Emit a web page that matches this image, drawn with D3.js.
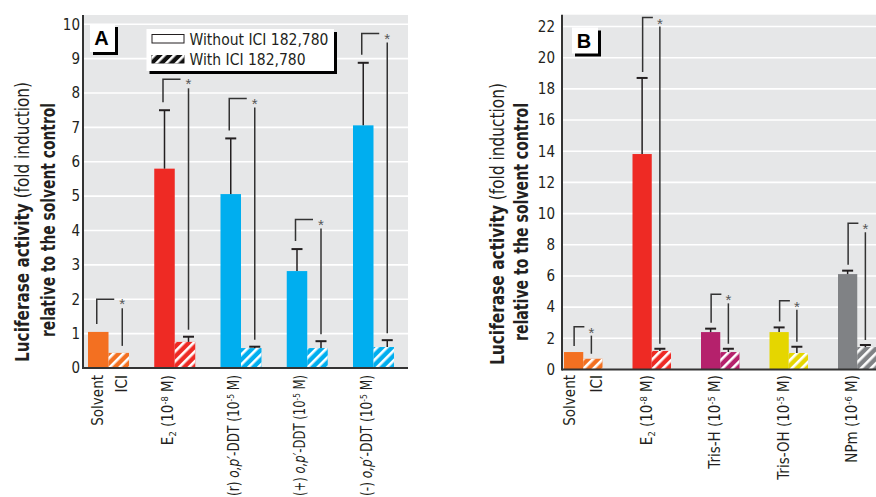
<!DOCTYPE html>
<html><head><meta charset="utf-8">
<script src="https://cdn.jsdelivr.net/npm/d3@7"></script>
<style>
body{margin:0;background:#fff;}
svg{display:block;font-family:"Liberation Sans Narrow","DejaVu Sans Condensed","Liberation Sans",sans-serif;}
</style></head><body>
<svg id="c" width="876" height="497"></svg>
<script>
// ---------- Panel A data ----------
const groupsA = ["Solvent/ICI", "E2", "(r) o,p'-DDT", "(+) o,p'-DDT", "(-) o,p'-DDT"];
const withoutA = [1.05, 5.80, 5.06, 2.82, 7.06];
const withoutErrA = [0, 1.70, 1.62, 0.64, 1.82];
const withA = [0.44, 0.76, 0.58, 0.58, 0.61];
const withErrA = [0, 0.15, 0.04, 0.20, 0.20];
const bracketTopA = [2.00, 8.40, 7.84, 4.32, 9.73];
const yTicksA = [0, 1, 2, 3, 4, 5, 6, 7, 8, 9, 10];
const colorsA = ["#F37021", "#EE2A24", "#00AEEF", "#00AEEF", "#00AEEF"];
const labelsA = [
  [["E"], ["2", "sub"], [" (10"], ["-8", "sup"], [" M)"]],
  [["(r) "], ["o,p\u2032", "it"], ["-DDT (10"], ["-5", "sup"], [" M)"]],
  [["(+) "], ["o,p\u2032", "it"], ["-DDT (10"], ["-5", "sup"], [" M)"]],
  [["(-) "], ["o,p\u2032", "it"], ["-DDT (10"], ["-5", "sup"], [" M)"]]
];

// ---------- Panel B data ----------
const groupsB = ["Solvent/ICI", "E2", "Tris-H", "Tris-OH", "NPm"];
const withoutB = [1.12, 13.82, 2.40, 2.40, 6.12];
const withoutErrB = [0, 4.88, 0.22, 0.30, 0.22];
const withB = [0.69, 1.19, 1.12, 1.06, 1.44];
const withErrB = [0, 0.14, 0.21, 0.40, 0.13];
const bracketTopB = [2.75, 22.57, 4.82, 4.41, 9.38];
const yTicksB = [0, 2, 4, 6, 8, 10, 12, 14, 16, 18, 20, 22];
const colorsB = ["#F37021", "#EE2A24", "#B5216C", "#E5D600", "#808285"];
const labelsB = [
  [["E"], ["2", "sub"], [" (10"], ["-8", "sup"], [" M)"]],
  [["Tris-H (10"], ["-5", "sup"], [" M)"]],
  [["Tris-OH (10"], ["-5", "sup"], [" M)"]],
  [["NPm (10"], ["-6", "sup"], [" M)"]]
];
const solventLabels = ["Solvent", "ICI"];
const legendLabels = ["Without ICI 182,780", "With ICI 182,780"];
const yTitle = ["Luciferase activity", " (fold induction)", "relative to the solvent control"];

const svg = d3.select("#c");
const defs = svg.append("defs");
const pat = defs.append("pattern").attr("id", "hatch").attr("patternUnits", "userSpaceOnUse")
  .attr("width", 7).attr("height", 7).attr("patternTransform", "rotate(45)");
pat.append("rect").attr("x", 0).attr("y", 0).attr("width", 2.6).attr("height", 7).attr("fill", "#fff");

function richText(sel, parts, fs) {
  parts.forEach(p => {
    const t = sel.append("tspan").text(p[0]);
    if (p[1] === "it") t.attr("font-style", "italic");
    if (p[1] === "sup") { t.attr("dy", -5).attr("font-size", fs * 0.62).attr("data-shift", 5); }
    if (p[1] === "sub") { t.attr("dy", 3).attr("font-size", fs * 0.62).attr("data-shift", -3); }
  });
  const nodes = sel.selectAll("tspan").nodes();
  nodes.forEach((n, i) => {
    const s = n.getAttribute("data-shift");
    if (s !== null && nodes[i + 1]) nodes[i + 1].setAttribute("dy", s);
  });
}

function drawPanel(c) {
  const g = svg.append("g");
  const y = d3.scaleLinear().domain(c.domain).range(c.yRange);
  const xg = d3.scaleBand().domain(c.groups).range(c.xRange).paddingInner(c.padInner).paddingOuter(0);
  const xs = d3.scaleBand().domain(["without", "with"]).range([0, xg.bandwidth()]);

  g.append("rect").attr("x", c.bgLeft).attr("y", c.bgTop).attr("width", c.bgRight - c.bgLeft)
    .attr("height", y(0) - c.bgTop).attr("fill", "#E6E7E8");
  g.selectAll(".grid").data(c.ticks.filter(d => d > 0)).join("line")
    .attr("x1", c.bgLeft).attr("x2", c.bgRight).attr("y1", d => y(d)).attr("y2", d => y(d))
    .attr("stroke", "#fff").attr("stroke-width", 1.6);
  const ax = g.append("g").attr("transform", `translate(${c.bgLeft},0)`)
    .call(d3.axisLeft(y).tickValues(c.ticks).tickSize(0).tickPadding(c.bgLeft - c.tickRight));
  ax.select(".domain").remove();
  ax.selectAll("text").attr("font-size", 15).attr("fill", "#231F20")
    .attr("font-family", "'Liberation Sans Narrow','DejaVu Sans Condensed',sans-serif");

  const data = c.groups.map((gr, i) => ({
    gr, i, wo: c.without[i], woE: c.withoutErr[i], wi: c.withv[i], wiE: c.withErr[i],
    top: c.bracketTop[i], color: c.colors[i]
  }));
  const cxWo = d => xg(d.gr) + xs("without") + xs.bandwidth() / 2;
  const cxWi = d => xg(d.gr) + xs("with") + xs.bandwidth() / 2;

  g.selectAll(".bwo").data(data).join("rect")
    .attr("x", d => xg(d.gr) + xs("without")).attr("width", xs.bandwidth())
    .attr("y", d => y(d.wo)).attr("height", d => y(0) - y(d.wo)).attr("fill", d => d.color);
  g.selectAll(".bwi").data(data).join("rect")
    .attr("x", d => xg(d.gr) + xs("with")).attr("width", xs.bandwidth())
    .attr("y", d => y(d.wi)).attr("height", d => y(0) - y(d.wi)).attr("fill", d => d.color);
  g.selectAll(".bwih").data(data).join("rect")
    .attr("x", d => xg(d.gr) + xs("with")).attr("width", xs.bandwidth())
    .attr("y", d => y(d.wi)).attr("height", d => y(0) - y(d.wi)).attr("fill", "url(#hatch)");

  const errs = [];
  data.forEach(d => {
    if (d.woE > 0) errs.push({ x: cxWo(d), v: d.wo, e: d.woE });
    if (d.wiE > 0) errs.push({ x: cxWi(d) + c.rOff, v: d.wi, e: d.wiE });
  });
  g.selectAll(".ev").data(errs).join("line")
    .attr("x1", d => d.x).attr("x2", d => d.x).attr("y1", d => y(d.v)).attr("y2", d => y(d.v + d.e))
    .attr("stroke", "#231F20").attr("stroke-width", 1.5);
  g.selectAll(".ec").data(errs).join("line")
    .attr("x1", d => d.x - 5.5).attr("x2", d => d.x + 5.5).attr("y1", d => y(d.v + d.e)).attr("y2", d => y(d.v + d.e))
    .attr("stroke", "#231F20").attr("stroke-width", 2);

  data.forEach(d => {
    const lx = cxWo(d) + c.lOff, rx = cxWi(d) + c.rOff;
    const ty = y(d.top);
    const lb = y(d.wo + d.woE) - c.gapL;
    const rb = y(d.wi + d.wiE) - c.gapR;
    g.append("path").attr("d", `M${lx},${lb}V${ty}H${rx - c.hGap}`)
      .attr("fill", "none").attr("stroke", "#333").attr("stroke-width", 1.5);
    g.append("line").attr("x1", rx).attr("x2", rx).attr("y1", ty + 9).attr("y2", rb)
      .attr("stroke", "#333").attr("stroke-width", 1.5);
    g.append("text").attr("x", rx).attr("y", ty + c.astDy + 8).attr("text-anchor", "middle")
      .attr("font-size", 15).attr("fill", "#555").attr("font-family", "'Liberation Sans',sans-serif").text("*");
  });

  g.append("line").attr("x1", c.bgLeft).attr("x2", c.bgLeft).attr("y1", c.bgTop).attr("y2", y(0) + 1)
    .attr("stroke", "#333").attr("stroke-width", 2);
  g.append("line").attr("x1", c.bgLeft).attr("x2", c.bgRight).attr("y1", y(0)).attr("y2", y(0))
    .attr("stroke", "#333").attr("stroke-width", 2);

  const ly = 375;
  const d0 = data[0];
  [[cxWo(d0) + c.solOff, solventLabels[0]], [cxWi(d0) + c.iciOff, solventLabels[1]]].forEach(([x, t]) => {
    g.append("text").attr("transform", `translate(${x},${ly}) rotate(-90)`).attr("dy", "0.36em")
      .attr("text-anchor", "end").attr("font-size", 15).attr("fill", "#231F20").text(t);
  });
  data.slice(1).forEach((d, k) => {
    const t = g.append("text").attr("transform", `translate(${cxWo(d) + c.grpOff},${ly}) rotate(-90)`)
      .attr("dy", "0.36em").attr("text-anchor", "end").attr("font-size", 15).attr("fill", "#231F20");
    richText(t, c.labels[k], 15);
    const len = t.node().getComputedTextLength();
    if (len > c.maxLabelLen) t.attr("textLength", c.maxLabelLen).attr("lengthAdjust", "spacingAndGlyphs");
  });

  const t1 = g.append("text").attr("transform", `translate(${c.t1x},${c.t1y}) rotate(-90)`)
    .attr("text-anchor", "middle").attr("font-size", 19.5).attr("fill", "#231F20")
    .attr("textLength", c.t1len).attr("lengthAdjust", "spacingAndGlyphs");
  t1.append("tspan").attr("font-weight", "bold").text(yTitle[0]);
  t1.append("tspan").text(yTitle[1]);
  g.append("text").attr("transform", `translate(${c.t2x},${c.t2y}) rotate(-90)`)
    .attr("text-anchor", "middle").attr("font-size", 19.5).attr("font-weight", "bold").attr("fill", "#231F20")
    .attr("textLength", c.t2len).attr("lengthAdjust", "spacingAndGlyphs").text(yTitle[2]);

  const [px, py, pw, ph] = c.letterBox;
  g.append("rect").attr("x", px + 3).attr("y", py + 3).attr("width", pw).attr("height", ph).attr("fill", "#000");
  g.append("rect").attr("x", px).attr("y", py).attr("width", pw).attr("height", ph).attr("fill", "#fff");
  g.append("text").attr("x", px + pw / 2 - 1).attr("y", py + ph / 2 + 7).attr("text-anchor", "middle")
    .attr("font-size", 20).attr("font-weight", "bold").attr("font-family", "'Liberation Sans',Arial,sans-serif")
    .attr("fill", "#000").text(c.letter);
  return g;
}

drawPanel({
  groups: groupsA, without: withoutA, withoutErr: withoutErrA, withv: withA, withErr: withErrA,
  bracketTop: bracketTopA, ticks: yTicksA, colors: colorsA, labels: labelsA,
  domain: [0, 10], yRange: [368, 24.3], xRange: [88, 394], padInner: 0.381,
  bgLeft: 83, bgRight: 408, bgTop: 15, tickRight: 80,
  lOff: -1.5, rOff: 3.5, gapL: 8, gapR: 7, hGap: 8, astDy: 2,
  solOff: -1, iciOff: 2.5, grpOff: 3, maxLabelLen: 121,
  t1x: 28.5, t1y: 222, t1len: 280, t2x: 55, t2y: 220, t2len: 234,
  letterBox: [90, 24, 25, 28], letter: "A"
});

drawPanel({
  groups: groupsB, without: withoutB, withoutErr: withoutErrB, withv: withB, withErr: withErrB,
  bracketTop: bracketTopB, ticks: yTicksB, colors: colorsB, labels: labelsB,
  domain: [0, 22], yRange: [369.5, 26.5], xRange: [564, 876.5], padInner: 0.438,
  bgLeft: 562, bgRight: 876, bgTop: 14.7, tickRight: 555,
  lOff: 0.5, rOff: -1.5, gapL: 6, gapR: 5, hGap: 7, astDy: 3,
  solOff: -4, iciOff: 4, grpOff: 4, maxLabelLen: 121,
  t1x: 503.5, t1y: 224, t1len: 282, t2x: 528, t2y: 222, t2len: 238,
  letterBox: [572, 27.5, 26, 26], letter: "B"
});

const lg = svg.append("g");
lg.append("rect").attr("x", 149.5).attr("y", 32).attr("width", 187.5).attr("height", 42).attr("fill", "#000");
lg.append("rect").attr("x", 146.5).attr("y", 29).attr("width", 187.5).attr("height", 42).attr("fill", "#fff");
lg.append("rect").attr("x", 152).attr("y", 34.5).attr("width", 32).attr("height", 8.5)
  .attr("fill", "#fff").attr("stroke", "#231F20").attr("stroke-width", 1);
lg.append("rect").attr("x", 151.5).attr("y", 55).attr("width", 33).attr("height", 8.5).attr("fill", "#111");
lg.append("rect").attr("x", 151.5).attr("y", 55).attr("width", 33).attr("height", 8.5).attr("fill", "url(#hatch)");
lg.selectAll(".lt").data(legendLabels).join("text")
  .attr("x", 189.5).attr("y", (d, i) => 45 + i * 20).attr("font-size", 15.5).attr("fill", "#231F20")
  .text(d => d);
</script>
</body></html>
